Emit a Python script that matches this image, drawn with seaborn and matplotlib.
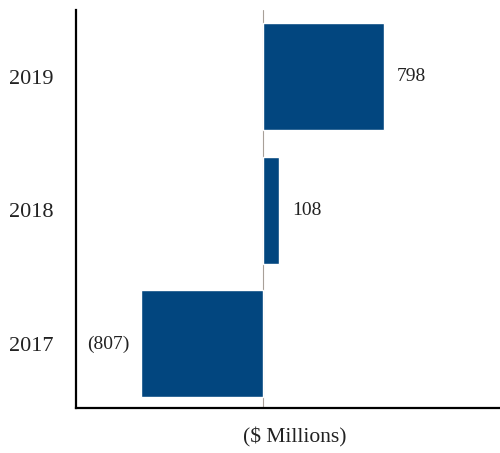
import matplotlib
matplotlib.use("Agg")
import matplotlib.pyplot as plt
import seaborn as sns
import pandas as pd

years = ["2019", "2018", "2017"]
values = [798, 108, -807]
labels = ["798", "108", "(807)"]

sns.set_theme(style="white")
plt.rcParams['font.family'] = ['Liberation Serif', 'DejaVu Serif']

df = pd.DataFrame({"year": years, "value": values})

fig = plt.figure(figsize=(5, 4.53), dpi=100)
ax = fig.add_axes([0.152, 0.0993, 0.848, 0.8786])
sns.barplot(data=df, x="value", y="year", order=years, orient="h",
            color="#02467f", saturation=1, width=0.8, ax=ax)

ax.set_xlim(-1233, 1563)
ax.set_ylim(2.48, -0.5)
ax.axvline(0, color="#a8a098", lw=0.8, zorder=0)

for i, (v, lab) in enumerate(zip(values, labels)):
    if v >= 0:
        ax.annotate(lab, (v, i), xytext=(13, 0), textcoords="offset pixels",
                    ha="left", va="center", fontsize=14, color="#222222")
    else:
        ax.annotate(lab, (v, i), xytext=(-11, 0), textcoords="offset pixels",
                    ha="right", va="center", fontsize=14, color="#222222")

for s in ["top", "right"]:
    ax.spines[s].set_visible(False)
for s in ["left", "bottom"]:
    ax.spines[s].set_color("black")
    ax.spines[s].set_linewidth(1.6)

ax.set_xticks([])
ax.tick_params(axis="y", length=0, pad=16, labelsize=16, labelcolor="#222222")
ax.set_ylabel("")
ax.set_xlabel("($ Millions)", fontsize=15.5, color="#222222")
ax.xaxis.set_label_coords(0.517, -0.048)

fig.savefig("out.png", dpi=100)
